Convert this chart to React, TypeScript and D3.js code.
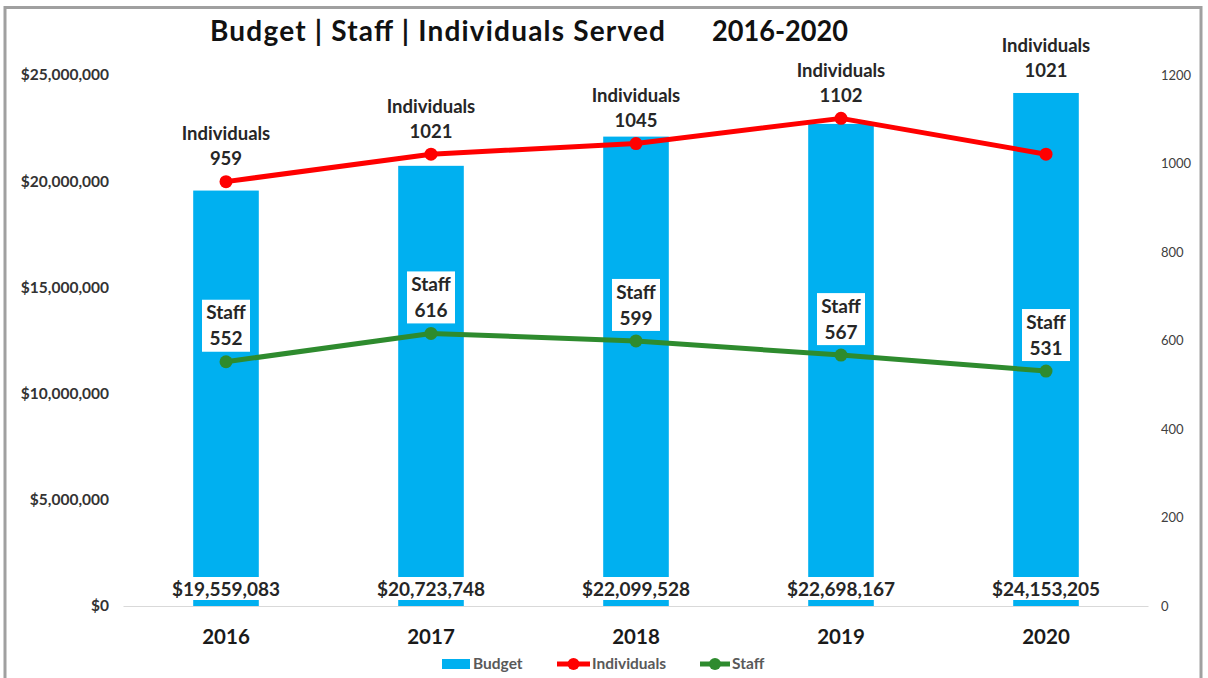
import React from "react";
import * as d3 from "d3";

const years = ["2016", "2017", "2018", "2019", "2020"];
const budget = [19559083, 20723748, 22099528, 22698167, 24153205];
const individuals = [959, 1021, 1045, 1102, 1021];
const staff = [552, 616, 599, 567, 531];
const leftTicks = [0, 5000000, 10000000, 15000000, 20000000, 25000000];
const rightTicks = [0, 200, 400, 600, 800, 1000, 1200];
// extra upward shift (px) of the Individuals labels, as placed in the original
const indLabelShift = [0, 0, 0, 0, 61];

const W = 1208;
const H = 678;
const FONT = "Lato, 'Open Sans', sans-serif";
const plot = { left: 123.5, right: 1148.5, top: 75, bottom: 606 };

export default function App() {
  const x = d3.scaleBand<string>().domain(years).range([plot.left, plot.right]).paddingInner(0.68).paddingOuter(0.34);
  const xc = (y: string) => (x(y) as number) + x.bandwidth() / 2;
  const yL = d3.scaleLinear().domain([0, 25000000]).range([plot.bottom, plot.top]);
  const yR = d3.scaleLinear().domain([0, 1200]).range([plot.bottom, plot.top]);
  const money = (v: number) => "$" + d3.format(",")(v);
  const lineInd = d3.line<number>().x((_, i) => xc(years[i])).y((d) => yR(d));
  const labelColor = "#262626";

  return (
    <svg width={W} height={H} style={{ position: "absolute", left: 0, top: 0, background: "#fff" }} fontFamily={FONT}>
      <rect x={5} y={7.5} width={1196} height={700} fill="#fff" stroke="#a0a0a0" strokeWidth={3} />
      {/* title */}
      <text x={210} y={41} fontSize={28} fontWeight="bold" fill="#111" textLength={455} lengthAdjust="spacing">Budget | Staff | Individuals Served</text>
      <text x={712} y={41} fontSize={28} fontWeight="bold" fill="#111" textLength={136} lengthAdjust="spacingAndGlyphs">2016-2020</text>
      {/* left axis */}
      {leftTicks.map((t) => (
        <text key={t} x={109} y={yL(t)} dy="0.35em" textAnchor="end" fontSize={15.5} fontWeight="bold" fill="#333">
          {money(t)}
        </text>
      ))}
      {/* right axis */}
      {rightTicks.map((t) => (
        <text key={t} x={1161} y={yR(t)} dy="0.35em" textAnchor="start" fontSize={13} fill="#404040">
          {t}
        </text>
      ))}
      {/* bars */}
      {years.map((yr, i) => (
        <rect key={yr} x={x(yr)} y={yL(budget[i])} width={x.bandwidth()} height={plot.bottom - yL(budget[i])} fill="#00B0F0" />
      ))}
      <line x1={plot.left} x2={plot.right} y1={plot.bottom + 0.5} y2={plot.bottom + 0.5} stroke="#d9d9d9" strokeWidth={1} />
      {/* budget labels */}
      {years.map((yr, i) => (
        <g key={yr}>
          <rect x={xc(yr) - 62} y={plot.bottom - 29} width={124} height={23} fill="#fff" />
          <text x={xc(yr)} y={plot.bottom - 17} dy="0.35em" textAnchor="middle" fontSize={19} fontWeight="bold" fill={labelColor}>
            {money(budget[i])}
          </text>
        </g>
      ))}
      {/* individuals line */}
      <path d={lineInd(individuals) || ""} fill="none" stroke="#FF0000" strokeWidth={5} strokeLinejoin="round" />
      {individuals.map((v, i) => (
        <circle key={i} cx={xc(years[i])} cy={yR(v)} r={6.5} fill="#FF0000" />
      ))}
      {individuals.map((v, i) => (
        <g key={i} fontSize={18.5} fontWeight="bold" fill={labelColor} textAnchor="middle">
          <text x={xc(years[i])} y={yR(v) - 48 - indLabelShift[i]} dy="0.35em">Individuals</text>
          <text x={xc(years[i])} y={yR(v) - 23 - indLabelShift[i]} dy="0.35em">{v}</text>
        </g>
      ))}
      {/* staff line */}
      <path d={lineInd(staff) || ""} fill="none" stroke="#2E8B2E" strokeWidth={5} strokeLinejoin="round" />
      {staff.map((v, i) => (
        <circle key={i} cx={xc(years[i])} cy={yR(v)} r={6.5} fill="#2E8B2E" />
      ))}
      {staff.map((v, i) => (
        <g key={i}>
          <rect x={xc(years[i]) - 24} y={yR(v) - 62} width={48} height={52} fill="#fff" />
          <text x={xc(years[i])} y={yR(v) - 49} dy="0.35em" textAnchor="middle" fontSize={19} fontWeight="bold" fill={labelColor}>Staff</text>
          <text x={xc(years[i])} y={yR(v) - 23} dy="0.35em" textAnchor="middle" fontSize={19} fontWeight="bold" fill={labelColor}>{v}</text>
        </g>
      ))}
      {/* year labels */}
      {years.map((yr) => (
        <text key={yr} x={xc(yr)} y={637} dy="0.35em" textAnchor="middle" fontSize={20.5} fontWeight="bold" fill="#1a1a1a">
          {yr}
        </text>
      ))}
      {/* legend */}
      <g fontSize={15.5} fontWeight="bold" fill="#595959">
        <rect x={442} y={659} width={28} height={10} fill="#00B0F0" />
        <text x={473} y={664} dy="0.35em">Budget</text>
        <line x1={557} x2={590} y1={664} y2={664} stroke="#FF0000" strokeWidth={5} />
        <circle cx={573.5} cy={664} r={6} fill="#FF0000" />
        <text x={592} y={664} dy="0.35em">Individuals</text>
        <line x1={700} x2={730} y1={664} y2={664} stroke="#2E8B2E" strokeWidth={5} />
        <circle cx={715} cy={664} r={6} fill="#2E8B2E" />
        <text x={732} y={664} dy="0.35em">Staff</text>
      </g>
    </svg>
  );
}
